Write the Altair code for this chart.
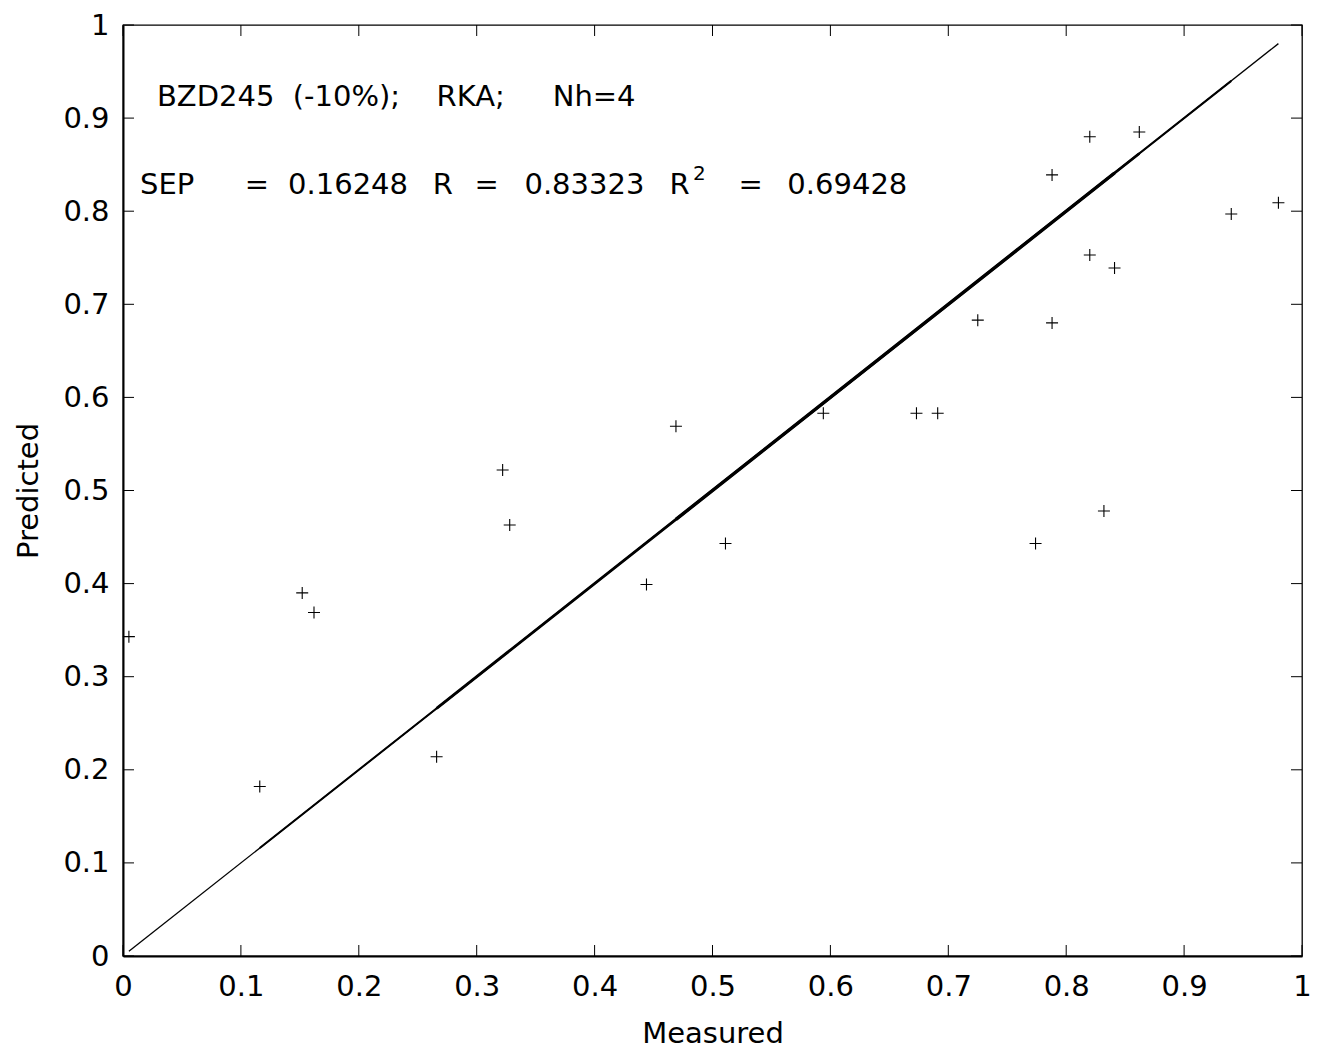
import altair as alt
import pandas as pd

# ---- data ----
measured = [0.005, 0.116, 0.152, 0.162, 0.266, 0.322, 0.328, 0.444, 0.469, 0.511,
            0.594, 0.673, 0.691, 0.725, 0.774, 0.788, 0.788, 0.820, 0.820, 0.832,
            0.841, 0.862, 0.940, 0.980]
predicted = [0.343, 0.182, 0.390, 0.369, 0.214, 0.522, 0.463, 0.399, 0.569, 0.443,
             0.583, 0.583, 0.583, 0.683, 0.443, 0.680, 0.839, 0.880, 0.753, 0.478,
             0.739, 0.885, 0.797, 0.809]
tick_values = [0, 0.1, 0.2, 0.3, 0.4, 0.5, 0.6, 0.7, 0.8, 0.9, 1]

# annotation pieces (text, x, baseline y) in data units
line1_text = ["BZD245", "(-10%);", "RKA;", "Nh=4"]
line1_x = [0.0288, 0.1440, 0.2660, 0.3645]
line1_y = 0.913
line2_text = ["SEP", "=", "0.16248", "R", "=", "0.83323", "R", "=", "0.69428"]
line2_x = [0.0145, 0.1033, 0.1400, 0.2627, 0.2982, 0.3405, 0.4635, 0.5220, 0.5635]
line2_y = 0.818
sup_text = ["2"]
sup_x = [0.4835]
sup_y = 0.833

W, H = 1179, 931
FONT = "DejaVu Sans"
FS = 29
TL = 11  # tick length in px

scale = alt.Scale(domain=[0, 1], nice=False, zero=False)
common = dict(values=tick_values, format="~g", grid=False, ticks=False, tickSize=0,
              domain=True, domainColor="black", domainWidth=2, labelFlush=False,
              labelFont=FONT, titleFont=FONT, labelFontSize=FS, titleFontSize=FS,
              labelColor="black", titleColor="black", titleFontWeight="normal")
xaxis = alt.Axis(title="Measured", labelPadding=16, titlePadding=18, **common)
yaxis = alt.Axis(title="Predicted", labelPadding=14, titlePadding=19, **common)

pts = pd.DataFrame({"Measured": measured, "Predicted": predicted})

# diagonal reference line y = x, drawn over the measured range
m = sorted(measured)
segs = [(m[0], m[-1], 1.3), (m[1], m[-2], 2.0), (m[4], m[-3], 2.8), (m[8], m[-4], 3.4)]
rows = []
for i, (a, b, w) in enumerate(segs):
    rows.append({"seg": i, "v": a, "w": w})
    rows.append({"seg": i, "v": b, "w": w})
line_df = pd.DataFrame(rows)

line = alt.Chart(line_df).mark_line(color="black", clip=True).encode(
    x=alt.X("v:Q", scale=scale, axis=xaxis),
    y=alt.Y("v:Q", scale=scale, axis=yaxis),
    detail="seg:N",
    strokeWidth=alt.StrokeWidth("w:Q", scale=None, legend=None),
)

points = alt.Chart(pts).mark_point(
    shape="M-1,0L1,0M0,-1L0,1", size=144, filled=False, color="black",
    strokeWidth=1.1, opacity=1
).encode(
    x=alt.X("Measured:Q", scale=scale, axis=xaxis),
    y=alt.Y("Predicted:Q", scale=scale, axis=yaxis),
)

ticks_df = pd.DataFrame({"t": tick_values})
tick_left = alt.Chart(ticks_df).mark_rule(color="black", strokeWidth=1).encode(
    y=alt.Y("t:Q", scale=scale, axis=yaxis), x=alt.value(0), x2=alt.value(TL))
tick_right = alt.Chart(ticks_df).mark_rule(color="black", strokeWidth=1).encode(
    y=alt.Y("t:Q", scale=scale, axis=yaxis), x=alt.value(W - TL), x2=alt.value(W))
tick_bottom = alt.Chart(ticks_df).mark_rule(color="black", strokeWidth=1).encode(
    x=alt.X("t:Q", scale=scale, axis=xaxis), y=alt.value(H), y2=alt.value(H - TL))
tick_top = alt.Chart(ticks_df).mark_rule(color="black", strokeWidth=1).encode(
    x=alt.X("t:Q", scale=scale, axis=xaxis), y=alt.value(0), y2=alt.value(TL))

l1 = pd.DataFrame({"txt": line1_text, "x": line1_x, "y": [line1_y] * len(line1_text)})
l2 = pd.DataFrame({"txt": line2_text, "x": line2_x, "y": [line2_y] * len(line2_text)})
sp = pd.DataFrame({"txt": sup_text, "x": sup_x, "y": [sup_y]})

def text_layer(df, size):
    return alt.Chart(df).mark_text(
        align="left", baseline="alphabetic", font=FONT, fontSize=size, color="black"
    ).encode(
        x=alt.X("x:Q", scale=scale, axis=xaxis),
        y=alt.Y("y:Q", scale=scale, axis=yaxis),
        text="txt:N",
    )

chart = alt.layer(
    line, points, tick_left, tick_right, tick_bottom, tick_top,
    text_layer(l1, FS), text_layer(l2, FS), text_layer(sp, 20),
).properties(
    width=W, height=H,
    autosize=alt.AutoSizeParams(type="none"),
    padding={"left": 115, "top": 17, "right": 9, "bottom": 92},
    background="white",
).configure_view(
    stroke="black", strokeWidth=1.3
)

chart.save("out.html", embed_options={"renderer": "svg", "actions": False})
